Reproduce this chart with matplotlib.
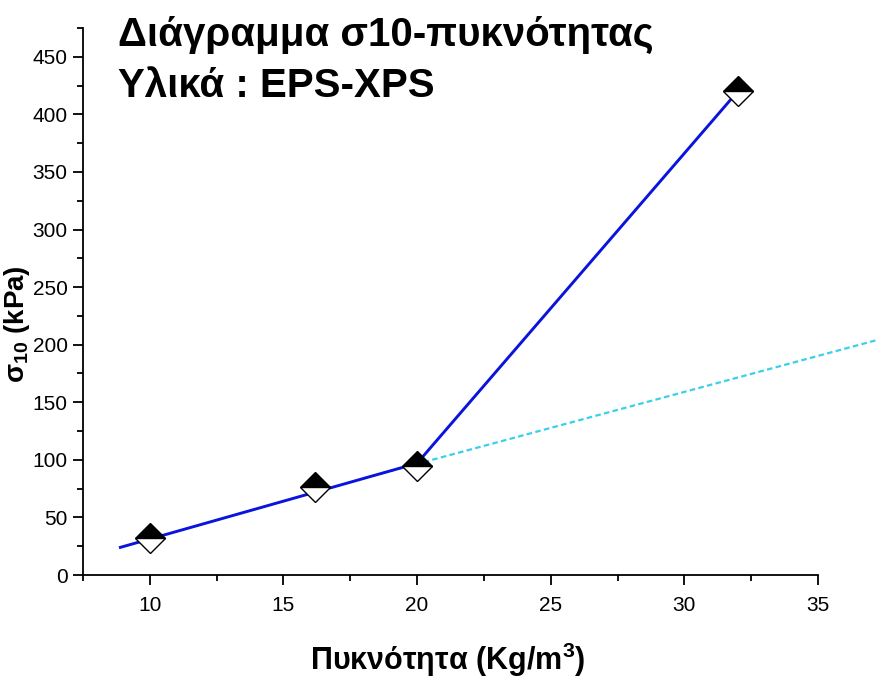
import matplotlib
matplotlib.use("Agg")
import matplotlib.pyplot as plt
from matplotlib.ticker import MultipleLocator

plt.rcParams['font.family'] = ['Liberation Sans', 'DejaVu Sans']
plt.rcParams['mathtext.fontset'] = 'custom'
plt.rcParams['mathtext.rm'] = 'Liberation Sans:bold'
plt.rcParams['mathtext.bf'] = 'Liberation Sans:bold'

# measured points: density (Kg/m3) vs sigma10 (kPa)
density = [10.0, 16.2, 20.0, 32.0]
sigma10 = [32, 76, 95, 420]

# linear fit of the EPS points, and its continuation
fit_x = [8.9, 20.0]
fit_y = [24, 97]
ext_x = [18.0, 37.2]
ext_y = [84, 204]
# jump to the XPS point
xps_x = [20.0, 32.0]
xps_y = [97, 420]

fig = plt.figure(figsize=(8.77, 6.80), dpi=100)
ax = fig.add_axes([0.0946, 0.1544, 0.8381, 0.8044])

ax.plot(ext_x, ext_y, color='#3ad0e8', lw=1.6, ls=(0, (2.5, 1.5)), clip_on=False, zorder=2)
ax.plot(fit_x, fit_y, color='#0a14dc', lw=2.1, zorder=3)
ax.plot(xps_x, xps_y, color='#0a14dc', lw=2.1, zorder=3)
ax.plot(density, sigma10, ls='none', marker='D', markersize=15, fillstyle='top',
        markerfacecolor='black', markerfacecoloralt='white', markeredgecolor='black',
        markeredgewidth=1.0, zorder=4)

ax.set_xlim(7.5, 35)
ax.set_ylim(0, 475)
ax.xaxis.set_major_locator(MultipleLocator(5))
ax.xaxis.set_minor_locator(MultipleLocator(2.5))
ax.yaxis.set_major_locator(MultipleLocator(50))
ax.yaxis.set_minor_locator(MultipleLocator(25))
ax.set_xticks([10, 15, 20, 25, 30, 35])
for side in ['top', 'right']:
    ax.spines[side].set_visible(False)
for side in ['left', 'bottom']:
    ax.spines[side].set_linewidth(1.3)
ax.tick_params(which='major', direction='out', length=7, width=1.3, labelsize=15)
ax.tick_params(which='minor', direction='out', length=4, width=1.3)
ax.tick_params(axis='x', pad=8)
ax.tick_params(axis='y', pad=4)

fig.text(118 / 877, 1 - 46 / 680, 'Διάγραμμα σ10-πυκνότητας', fontsize=29,
         fontweight='bold', ha='left', va='baseline')
fig.text(118 / 877, 1 - 97 / 680, 'Υλικά : EPS-XPS', fontsize=29,
         fontweight='bold', ha='left', va='baseline')

fig.text(448 / 877, 1 - 660 / 680, r'Πυκνότητα (Kg/m$^{3}$)', fontsize=22,
         fontweight='bold', ha='center', va='center')
fig.text(17 / 877, 1 - 324 / 680, r'σ$_{10}$ (kPa)', fontsize=20,
         fontweight='bold', ha='center', va='center', rotation=90)

fig.savefig('out.png', dpi=100)
